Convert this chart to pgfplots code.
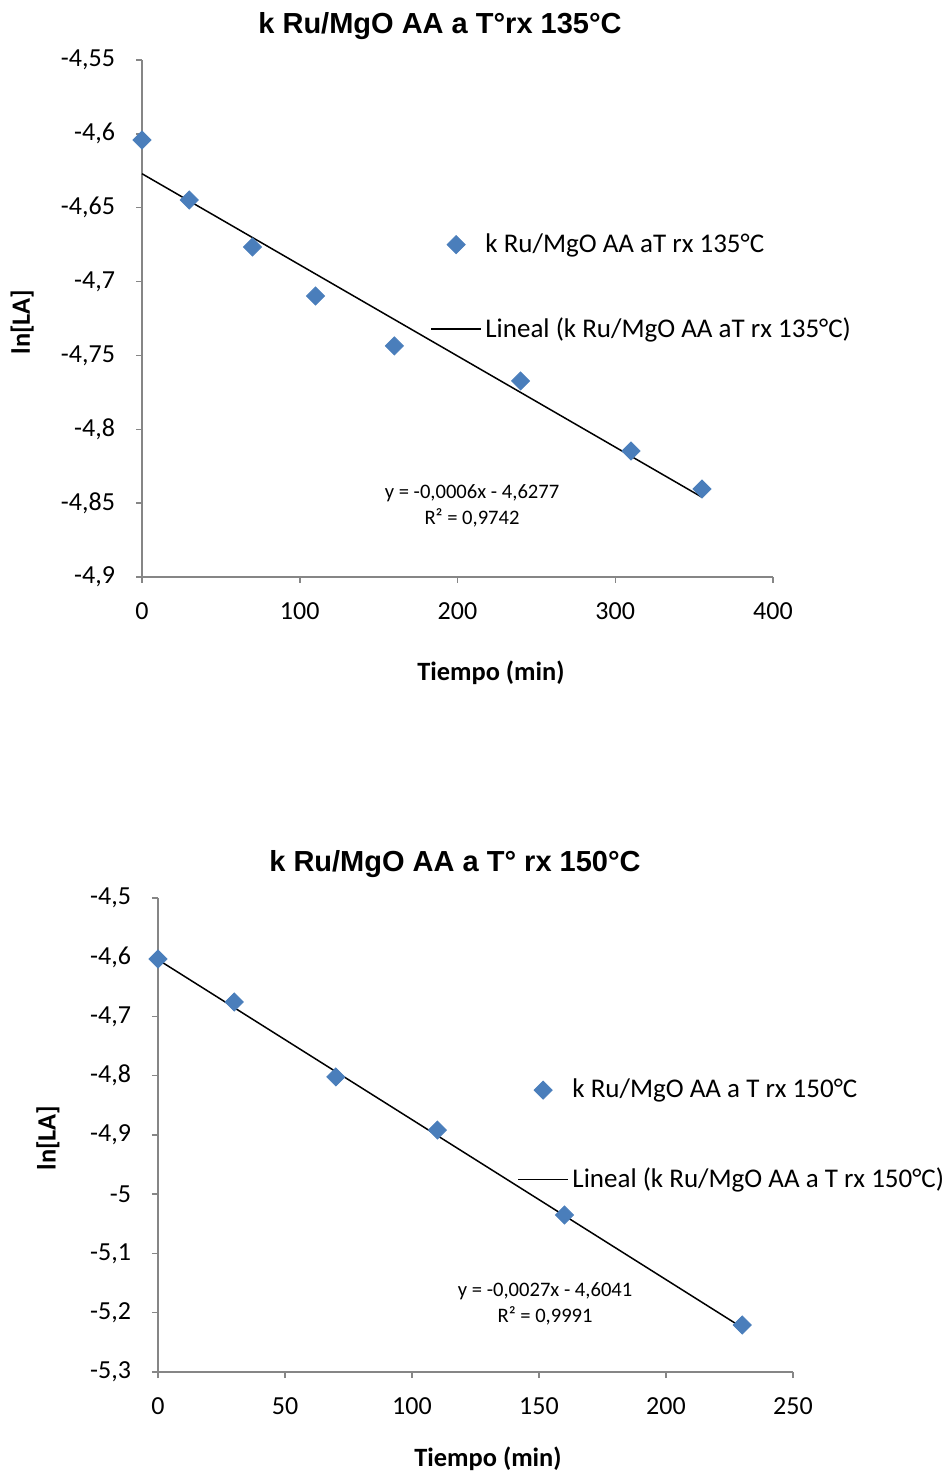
\documentclass[border=0pt]{standalone}
\usepackage{pgfplots}
\pgfplotsset{compat=1.18}
\usepackage{fontspec}
\setmainfont{Carlito}
\newfontfamily\arialfont{Liberation Sans}
\definecolor{mblue}{HTML}{4A7EBB}
\definecolor{axgray}{HTML}{868686}
\pgfplotsset{
 mystyle/.style={
  scale only axis,
  anchor=south west,
  axis x line=bottom, axis y line=left,
  axis line style={-, draw=axgray, line width=0.75pt},
  tick style={draw=axgray, line width=0.75pt},
  tick align=outside,
  major tick length=3pt,
  /pgf/number format/assume math mode=true,
  /pgf/number format/use comma,
  /pgf/number format/1000 sep={},
  tick label style={font=\fontsize{13}{15}\selectfont},
  yticklabel style={xshift=-7pt},
  xticklabel style={yshift=-6.5pt},
  title style={font=\arialfont\bfseries\fontsize{14.5}{17}\selectfont, anchor=center},
  xlabel style={font=\bfseries\fontsize{13.2}{16}\selectfont, anchor=center},
  ylabel style={font=\bfseries\fontsize{13.2}{16}\selectfont, anchor=center},
  clip=false,
  legend style={draw=none, fill=none, font=\fontsize{13.5}{16}\selectfont, anchor=west, inner sep=0pt, nodes={inner sep=1.75pt}},
  legend cell align=left,
 },
 scat/.style={only marks, mark=square*, mark size=3.2pt, mark options={rotate=45, fill=mblue, draw=mblue},
   legend image code/.code={\draw[##1] plot coordinates {(12.5pt,0pt)};}},
 trend/.style={black, line width=0.75pt, no marks,
   legend image code/.code={\draw[##1] (0pt,0pt) -- (25pt,0pt);}},
}
\begin{document}
\begin{tikzpicture}
\path[use as bounding box] (0,0) rectangle (471.5pt,736pt);
\begin{axis}[mystyle, at={(71pt,447.5pt)}, width=315.5pt, height=258.5pt,
  xmin=0, xmax=400, ymin=-4.9, ymax=-4.55,
  xtick={0,100,200,300,400},
  ytick={-4.9,-4.85,-4.8,-4.75,-4.7,-4.65,-4.6,-4.55},
  title={k Ru/MgO AA a T°rx 135°C},
  title style={at={(axis description cs:0.4723,1.0426)}},
  xlabel={Tiempo (min)},
  xlabel style={at={(axis description cs:0.553,-0.1858)}},
  ylabel={ln[LA]},
  ylabel style={at={(axis description cs:-0.190,0.4932)}},
  legend style={at={(axis description cs:0.4564,0.5608)}, row sep=27.5pt},
]
\addplot[scat] coordinates {
 (0,-4.6042) (30,-4.6448) (70,-4.6766) (110,-4.7098)
 (160,-4.7436) (240,-4.7673) (310,-4.8147) (355,-4.8405)
};
\addlegendentry{k Ru/MgO AA aT rx 135°C}
\addplot[trend] coordinates {(0,-4.6270) (355,-4.8460)};
\addlegendentry{Lineal (k Ru/MgO AA aT rx 135°C)}
\node[align=center, font=\fontsize{10.3}{13}\selectfont] at (axis cs:209.2,-4.852) {y = -0,0006x - 4,6277\\R² = 0,9742};
\end{axis}
\begin{axis}[mystyle, at={(79pt,50pt)}, width=317.5pt, height=237pt,
  xmin=0, xmax=250, ymin=-5.3, ymax=-4.5,
  xtick={0,50,100,150,200,250},
  ytick={-5.3,-5.2,-5.1,-5,-4.9,-4.8,-4.7,-4.6,-4.5},
  title={k Ru/MgO AA a T° rx 150°C},
  title style={at={(axis description cs:0.4677,1.0465)}},
  xlabel={Tiempo (min)},
  xlabel style={at={(axis description cs:0.5197,-0.1835)}},
  ylabel={ln[LA]},
  ylabel style={at={(axis description cs:-0.1732,0.4937)}},
  legend style={at={(axis description cs:0.5654,0.5)}, row sep=30pt},
]
\addplot[scat] coordinates {
 (0,-4.603) (30,-4.6755) (70,-4.802) (110,-4.8916) (160,-5.035) (230,-5.2207)
};
\addlegendentry{k Ru/MgO AA a T rx 150°C}
\addplot[trend] coordinates {(0,-4.6041) (230,-5.2251)};
\addlegendentry{Lineal (k Ru/MgO AA a T rx 150°C)}
\node[align=center, font=\fontsize{10.3}{13}\selectfont] at (axis cs:152.4,-5.185) {y = -0,0027x - 4,6041\\R² = 0,9991};
\end{axis}
\end{tikzpicture}
\end{document}
